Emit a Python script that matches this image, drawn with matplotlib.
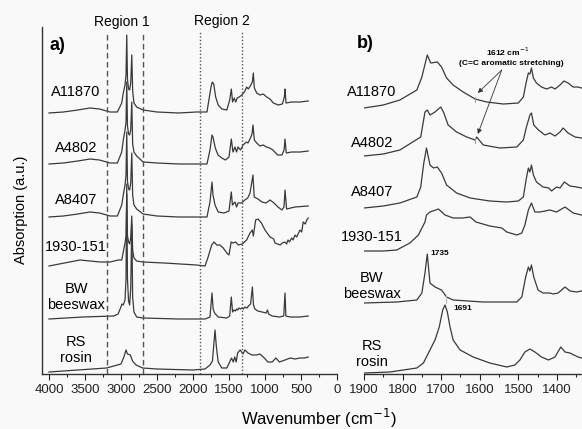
import matplotlib

matplotlib.use("Agg")
import matplotlib.pyplot as plt
import numpy as np
from matplotlib.ticker import MultipleLocator

plt.rcParams["font.family"] = ["Liberation Sans", "DejaVu Sans"]

SAMPLES = ["A11870", "A4802", "A8407", "1930-151", "BW\nbeeswax", "RS\nrosin"]

# panel a) full range spectra: (wavenumber cm-1, absorbance a.u.)
A11870_FULL = [(4000, 0), (3800, 1), (3600, 3), (3430, 5), (3300, 4), (3150, 1), (3050, 1),
               (2990, 10), (2968, 20), (2944, 28), (2930, 38), (2920, 78), (2910, 34), (2895, 24),
               (2880, 23), (2865, 30), (2850, 58), (2838, 22), (2820, 10), (2782, 6), (2694, 3),
               (2500, 1), (2200, 0), (1950, 1), (1806, 1), (1750, 26), (1732, 31), (1712, 29),
               (1685, 16), (1650, 8), (1600, 4), (1530, 3), (1490, 13), (1468, 24), (1450, 11),
               (1427, 15), (1407, 11), (1385, 15), (1357, 16), (1323, 18), (1287, 21), (1254, 26),
               (1232, 24), (1204, 27), (1176, 31), (1162, 40), (1148, 25), (1115, 20), (1070, 18),
               (1023, 19), (977, 16), (930, 14), (884, 10), (815, 8), (759, 9), (731, 16), (722, 24),
               (708, 10), (630, 11), (514, 11), (400, 12)]
A4802_FULL = [(4000, 0), (3800, 1), (3600, 3), (3430, 5), (3300, 4), (3150, 1), (3050, 1),
              (2990, 12), (2968, 24), (2944, 34), (2930, 42), (2920, 82), (2910, 38), (2895, 30),
              (2880, 29), (2865, 34), (2850, 62), (2838, 20), (2820, 12), (2782, 8), (2694, 2),
              (2500, 1), (2200, 0), (1950, 0), (1806, 0), (1764, 14), (1736, 29), (1722, 27),
              (1708, 22), (1690, 16), (1653, 9), (1600, 6), (1550, 4), (1500, 7), (1468, 25),
              (1445, 12), (1417, 17), (1395, 12), (1375, 17), (1340, 14), (1305, 19), (1258, 22),
              (1236, 21), (1202, 26), (1180, 30), (1167, 39), (1148, 24), (1115, 21), (1070, 18),
              (1025, 19), (980, 17), (935, 16), (890, 14), (825, 9), (765, 9), (735, 14), (722, 25),
              (705, 11), (630, 12), (510, 12), (400, 13)]
A8407_FULL = [(4000, 0), (3800, 1), (3600, 3), (3430, 5), (3300, 4), (3150, 1), (3050, 1),
              (2990, 12), (2968, 22), (2944, 32), (2930, 42), (2920, 85), (2910, 36), (2895, 28),
              (2880, 27), (2865, 34), (2850, 64), (2838, 22), (2820, 12), (2782, 8), (2694, 3),
              (2500, 1), (2200, 0), (1950, 0), (1806, 0), (1764, 15), (1736, 35), (1722, 22),
              (1694, 12), (1650, 5), (1570, 4), (1500, 6), (1468, 25), (1452, 12), (1417, 15),
              (1395, 10), (1375, 14), (1325, 14), (1280, 17), (1240, 19), (1208, 24), (1167, 42),
              (1150, 20), (1097, 18), (1042, 15), (986, 14), (930, 17), (875, 14), (820, 10),
              (764, 7), (736, 10), (722, 27), (700, 8), (583, 10), (400, 11)]
S1930_FULL = [(4000, 0), (3570, 6), (3290, 4), (3150, 4), (3040, 6), (2990, 6), (2968, 14),
              (2944, 23), (2930, 30), (2920, 72), (2910, 30), (2895, 24), (2880, 22), (2865, 28),
              (2850, 50), (2838, 16), (2820, 8), (2782, 5), (2694, 4), (2400, 3), (1950, 1),
              (1833, 0), (1790, 9), (1740, 21), (1708, 24), (1670, 21), (1625, 21), (1580, 18),
              (1530, 13), (1500, 11), (1470, 24), (1440, 23), (1407, 24), (1370, 21), (1315, 22),
              (1255, 26), (1208, 33), (1176, 36), (1162, 30), (1130, 46), (1097, 47), (1050, 43),
              (1000, 36), (930, 29), (880, 27), (860, 23), (790, 21), (760, 23), (722, 24),
              (700, 22), (680, 26), (660, 24), (630, 28), (610, 26), (583, 31), (560, 29),
              (514, 36), (490, 34), (470, 44), (440, 42), (420, 46), (400, 48)]
BW_FULL = [(4000, 0), (3530, 2), (3100, 3), (3040, 5), (2985, 15), (2968, 14), (2944, 19),
           (2930, 40), (2920, 135), (2910, 40), (2895, 18), (2880, 14), (2865, 30), (2850, 94),
           (2838, 22), (2820, 7), (2782, 2), (2694, 1), (2200, 0), (1833, 0), (1764, 2),
           (1736, 26), (1720, 10), (1700, 6), (1650, 2), (1530, 1), (1490, 3), (1468, 22),
           (1450, 7), (1430, 9), (1410, 8), (1395, 10), (1380, 9), (1360, 11), (1340, 10),
           (1320, 11), (1300, 10), (1280, 12), (1250, 11), (1230, 13), (1200, 15), (1175, 32),
           (1160, 14), (1140, 10), (1100, 8), (1040, 7), (985, 6), (965, 9), (950, 5), (900, 3),
           (800, 2), (740, 3), (722, 26), (710, 3), (650, 2), (514, 2), (400, 3)]
RS_FULL = [(4000, 0), (3600, 2), (3200, 4), (3000, 8), (2960, 15), (2930, 22), (2910, 18),
           (2870, 17), (2840, 11), (2790, 7), (2700, 4), (2500, 3), (2000, 2), (1833, 3),
           (1764, 7), (1730, 11), (1694, 42), (1675, 25), (1650, 10), (1600, 4), (1530, 4),
           (1465, 14), (1440, 10), (1420, 15), (1400, 10), (1380, 19), (1345, 22), (1305, 18),
           (1280, 22), (1235, 19), (1180, 17), (1120, 17), (1070, 18), (1010, 14), (960, 10),
           (900, 10), (850, 14), (800, 10), (722, 12), (650, 14), (583, 13), (514, 14),
           (450, 14), (400, 15)]

# panel b) 1900-1335 cm-1 detail, separately scaled
A11870_ZOOM = [(1900, 0), (1850, 3), (1807, 8), (1763, 18), (1750, 31), (1736, 53), (1727, 45),
               (1710, 46), (1699, 41), (1686, 30), (1669, 23), (1643, 16), (1612, 9), (1582, 6),
               (1539, 4), (1500, 5), (1487, 11), (1480, 25), (1474, 35), (1470, 34), (1466, 40),
               (1461, 30), (1453, 25), (1440, 21), (1427, 19), (1414, 21), (1405, 19), (1392, 23),
               (1382, 27), (1371, 25), (1358, 21), (1346, 21), (1336, 20)]
A4802_ZOOM = [(1900, 0), (1850, 2), (1807, 6), (1753, 19), (1742, 44), (1736, 46), (1729, 41),
              (1716, 44), (1701, 49), (1693, 43), (1682, 31), (1660, 24), (1634, 19), (1612, 16),
              (1608, 19), (1591, 11), (1548, 8), (1504, 9), (1487, 16), (1479, 29), (1470, 41),
              (1466, 43), (1460, 31), (1448, 26), (1431, 21), (1418, 23), (1405, 20), (1392, 24),
              (1384, 28), (1371, 23), (1353, 19), (1336, 18)]
A8407_ZOOM = [(1900, 0), (1850, 2), (1807, 5), (1763, 11), (1753, 21), (1745, 45), (1738, 60),
              (1729, 43), (1720, 40), (1710, 41), (1699, 35), (1686, 23), (1660, 15), (1625, 10),
              (1574, 7), (1530, 6), (1500, 7), (1487, 11), (1480, 28), (1474, 40), (1470, 36),
              (1466, 43), (1461, 33), (1453, 26), (1436, 21), (1421, 20), (1414, 17), (1401, 21),
              (1392, 20), (1381, 26), (1366, 22), (1349, 21), (1336, 20)]
S1930_ZOOM = [(1900, 0), (1850, 0), (1815, 1), (1781, 8), (1759, 16), (1742, 29), (1738, 36),
              (1729, 39), (1707, 42), (1690, 36), (1669, 33), (1645, 33), (1625, 34), (1610, 29),
              (1574, 25), (1543, 23), (1530, 19), (1504, 16), (1491, 18), (1483, 26), (1474, 41),
              (1466, 48), (1457, 39), (1444, 39), (1418, 41), (1401, 39), (1379, 44), (1358, 38),
              (1336, 36)]
BW_ZOOM = [(1900, 0), (1815, 1), (1763, 3), (1750, 10), (1742, 30), (1736, 49), (1729, 20),
           (1716, 16), (1699, 13), (1686, 6), (1669, 3), (1591, 1), (1504, 1), (1491, 6),
           (1481, 26), (1474, 36), (1470, 32), (1466, 38), (1460, 26), (1449, 13), (1436, 10),
           (1418, 10), (1410, 9), (1397, 10), (1379, 16), (1366, 12), (1349, 11), (1336, 12)]
RS_ZOOM = [(1900, 0), (1833, 1), (1763, 5), (1746, 10), (1729, 23), (1716, 33), (1705, 46),
           (1696, 63), (1690, 68), (1684, 61), (1677, 46), (1669, 33), (1651, 23), (1617, 16),
           (1574, 10), (1530, 6), (1509, 8), (1496, 13), (1483, 21), (1470, 24), (1457, 21),
           (1440, 16), (1422, 13), (1405, 16), (1390, 26), (1379, 21), (1366, 20), (1356, 18),
           (1345, 16), (1336, 15)]

FULL = [A11870_FULL, A4802_FULL, A8407_FULL, S1930_FULL, BW_FULL, RS_FULL]
ZOOM = [A11870_ZOOM, A4802_ZOOM, A8407_ZOOM, S1930_ZOOM, BW_ZOOM, RS_ZOOM]
FULL_OFFSETS = [261, 210, 157, 108, 55, 2]
ZOOM_OFFSETS = [266, 218, 166, 123, 71, 1]

REGION1 = (3200, 2700)
REGION2 = (1900, 1320)

W, H = 582, 429
LINE = "#3a3a3a"


def box(x0, x1, y_top, y_bot):
    return [x0 / W, 1 - y_bot / H, (x1 - x0) / W, (y_bot - y_top) / H]


fig = plt.figure(figsize=(W / 100, H / 100), dpi=100, facecolor="#f9f9f9")
ax1 = fig.add_axes(box(42, 337, 27, 374))
ax2 = fig.add_axes(box(364, 582, 27, 374))

for ax in (ax1, ax2):
    ax.set_facecolor("none")
    ax.spines[["top", "right"]].set_visible(False)
    for s in ("left", "bottom"):
        ax.spines[s].set_color("#333333")
        ax.spines[s].set_linewidth(1.0)
    ax.set_yticks([])
    ax.set_ylim(0, 347)
    ax.tick_params(axis="x", which="major", direction="out", length=4, width=0.8,
                   labelsize=9.5, pad=3, colors="#222222")
    ax.tick_params(axis="x", which="minor", direction="out", length=2.5, width=0.8,
                   colors="#222222")
ax2.spines["left"].set_visible(False)

ax1.set_xlim(4097, 0)
ax1.xaxis.set_major_locator(MultipleLocator(500))
ax1.xaxis.set_minor_locator(MultipleLocator(250))
ax2.set_xlim(1900, 1335)
ax2.xaxis.set_major_locator(MultipleLocator(100))
ax2.xaxis.set_minor_locator(MultipleLocator(50))

for data, off in zip(FULL, FULL_OFFSETS):
    wn, a = zip(*data)
    ax1.plot(wn, np.array(a) + off, color=LINE, lw=0.9)
for data, off in zip(ZOOM, ZOOM_OFFSETS):
    wn, a = zip(*data)
    ax2.plot(wn, np.array(a) + off, color=LINE, lw=0.9)

top = (374 - 32) / 347
for x in REGION1:
    ax1.axvline(x, ymax=top, color="#555555", lw=1.0, dashes=(4, 2.5))
for x in REGION2:
    ax1.axvline(x, ymax=top, color="#555555", lw=1.0, dashes=(1, 1.5))
fig.text(122 / W, 1 - 22 / H, "Region 1", ha="center", va="center", fontsize=10)
fig.text(222 / W, 1 - 21 / H, "Region 2", ha="center", va="center", fontsize=10)

fig.text(49 / W, 1 - 45 / H, "a)", ha="left", va="center", fontsize=13, fontweight="bold")
fig.text(357 / W, 1 - 44 / H, "b)", ha="left", va="center", fontsize=13, fontweight="bold")

left_lab_y = [92, 148, 200, 247, 297, 350]
right_lab_y = [92, 143, 192, 237, 286, 354]
for name, yl, yr in zip(SAMPLES, left_lab_y, right_lab_y):
    fig.text(76 / W, 1 - yl / H, name, ha="center", va="center", fontsize=10.5,
             linespacing=1.25)
    fig.text(372 / W, 1 - yr / H, name, ha="center", va="center", fontsize=10.5,
             linespacing=1.25)

# 1612 cm-1 markers and arrows
for data, off in zip(ZOOM[:2], ZOOM_OFFSETS[:2]):
    wn, a = zip(*data)
    yv = np.interp(1612, wn[::-1], a[::-1]) + off
    ax2.plot([1612, 1612], [yv - 2.5, yv + 2.5], color="#999999", lw=0.7)
    ax2.annotate("", xy=(1605, yv + 6), xytext=(1543, 304),
                 arrowprops=dict(arrowstyle="-|>", color="#333333", lw=0.6,
                                 mutation_scale=7, shrinkA=0, shrinkB=0))
ax2.text(1529, 322, "1612 cm$^{-1}$", ha="center", va="center", fontsize=6,
         fontweight="bold")
ax2.text(1518, 311, "(C=C aromatic stretching)", ha="center", va="center",
         fontsize=6, fontweight="bold")

ax2.text(1729, 121, "1735", ha="left", va="center", fontsize=6, fontweight="bold")
ax2.text(1667, 66, "1691", ha="left", va="center", fontsize=6, fontweight="bold")
ax2.plot([1688, 1688], [71, 78], color="#bbbbbb", lw=0.7)

fig.text(319 / W, 1 - 418 / H, "Wavenumber (cm$^{-1}$)", ha="center", va="center",
         fontsize=12)
fig.text(21 / W, 1 - 210 / H, "Absorption (a.u.)", ha="center", va="center",
         rotation=90, fontsize=10.5)

fig.savefig("out.png", dpi=100, facecolor=fig.get_facecolor())
